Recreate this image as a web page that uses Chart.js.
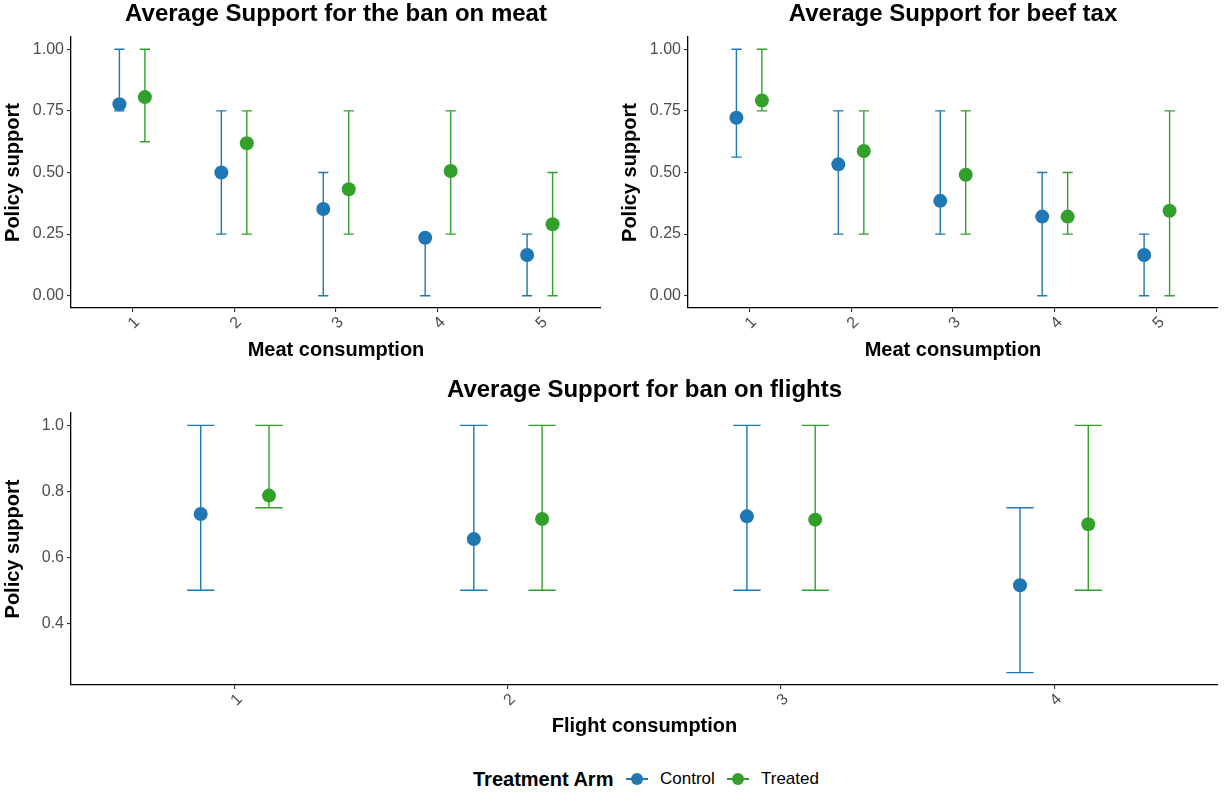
<!DOCTYPE html>
<html>
<head>
<meta charset="utf-8">
<script src="https://cdn.jsdelivr.net/npm/chart.js@4.4.1/dist/chart.umd.min.js"></script>
<style>
  html, body { margin: 0; padding: 0; background: #ffffff; }
  body { width: 1225px; height: 797px; position: relative; overflow: hidden;
         font-family: "Liberation Sans", Arial, Helvetica, sans-serif; }
  .panel { position: absolute; }
  .panel canvas { display: block; }
  #legend span { position: absolute; white-space: nowrap; line-height: 1; }
  #legend .lg-title { font-weight: bold; font-size: 20px; color: #000; }
  #legend .lbl { font-size: 17px; color: #000; }
  #legend .key { width: 22px; height: 14px; }
  #legend .key i { position: absolute; display: block; }
  #legend .key .ln { left: 0; top: 6px; width: 22px; height: 1.5px; }
  #legend .key .dot { left: 5px; top: 1px; width: 12px; height: 12px; border-radius: 50%; }
</style>
</head>
<body>
<div class="panel" style="left:0;top:0;"><canvas id="meatBan" width="612" height="365"></canvas></div>
<div class="panel" style="left:612px;top:0;"><canvas id="beefTax" width="613" height="365"></canvas></div>
<div class="panel" style="left:0;top:370px;"><canvas id="flightBan" width="1225" height="375"></canvas></div>
<div id="legend"></div>

<script>
// ---- data -----------------------------------------------------------------
const armNames  = ['Control', 'Treated'];
const armColors = ['#1f78b4', '#33a02c'];

const meatCats = [1, 2, 3, 4, 5];
const flightCats = [1, 2, 3, 4];

const supportTicks = [0, 0.25, 0.5, 0.75, 1];
const flightSupportTicks = [0.4, 0.6, 0.8, 1.0];

// Average support for the ban on meat
const banMeatCtrl   = [0.777, 0.500, 0.352, 0.235, 0.165];
const banMeatCtrlLo = [0.75, 0.25, 0.00, 0.00, 0.00];
const banMeatCtrlHi = [1.00, 0.75, 0.50, 0.25, 0.25];
const banMeatTrt    = [0.806, 0.619, 0.432, 0.506, 0.290];
const banMeatTrtLo  = [0.625, 0.25, 0.25, 0.25, 0.00];
const banMeatTrtHi  = [1.00, 0.75, 0.75, 0.75, 0.50];

// Average support for beef tax
const beefTaxCtrl   = [0.722, 0.533, 0.385, 0.321, 0.165];
const beefTaxCtrlLo = [0.5625, 0.25, 0.25, 0.00, 0.00];
const beefTaxCtrlHi = [1.00, 0.75, 0.75, 0.50, 0.25];
const beefTaxTrt    = [0.792, 0.587, 0.491, 0.321, 0.345];
const beefTaxTrtLo  = [0.75, 0.25, 0.25, 0.25, 0.00];
const beefTaxTrtHi  = [1.00, 0.75, 0.75, 0.50, 0.75];

// Average support for ban on flights
const flightCtrl   = [0.731, 0.655, 0.724, 0.515];
const flightCtrlLo = [0.50, 0.50, 0.50, 0.25];
const flightCtrlHi = [1.00, 1.00, 1.00, 0.75];
const flightTrt    = [0.787, 0.716, 0.714, 0.700];
const flightTrtLo  = [0.75, 0.50, 0.50, 0.50];
const flightTrtHi  = [1.00, 1.00, 1.00, 1.00];

// ---- drawing --------------------------------------------------------------
const FONT = '"Liberation Sans", Arial, Helvetica, sans-serif';
Chart.defaults.font.family = FONT;

const DODGE = 0.125;     // horizontal offset of each arm from its category
const CAP_HALF = 0.05;   // half width of the error bar caps, in x units

// Vertical error bars with caps, drawn underneath the points
const errorBars = {
  id: 'errorBars',
  beforeDatasetsDraw(chart) {
    const { ctx, scales: { x, y } } = chart;
    chart.data.datasets.forEach((ds) => {
      ctx.save();
      ctx.strokeStyle = ds.backgroundColor;
      ctx.lineWidth = 1.4;
      ds.data.forEach((pt, j) => {
        const px = x.getPixelForValue(pt.x);
        const half = Math.abs(x.getPixelForValue(pt.x + CAP_HALF) - px);
        const yLo = y.getPixelForValue(ds.errLow[j]);
        const yHi = y.getPixelForValue(ds.errHigh[j]);
        ctx.beginPath();
        ctx.moveTo(px, yLo); ctx.lineTo(px, yHi);
        ctx.moveTo(px - half, yLo); ctx.lineTo(px + half, yLo);
        ctx.moveTo(px - half, yHi); ctx.lineTo(px + half, yHi);
        ctx.stroke();
      });
      ctx.restore();
    });
  }
};

function armDataset(i, cats, mean, lo, hi) {
  const shift = i === 0 ? -DODGE : DODGE;
  return {
    label: armNames[i],
    data: cats.map((c, j) => ({ x: c + shift, y: mean[j] })),
    errLow: lo,
    errHigh: hi,
    backgroundColor: armColors[i],
    borderColor: armColors[i],
    borderWidth: 0,
    pointRadius: 7,
    pointHoverRadius: 7,
    showLine: false
  };
}

function makePanel(id, o) {
  const axisGrid = { drawOnChartArea: false, drawTicks: true, tickLength: 4, color: '#333333', lineWidth: 1.1 };
  const axisBorder = { display: true, color: '#000000', width: 1.3 };
  return new Chart(document.getElementById(id), {
    type: 'scatter',
    data: {
      datasets: [
        armDataset(0, o.cats, o.ctrl, o.ctrlLo, o.ctrlHi),
        armDataset(1, o.cats, o.trt, o.trtLo, o.trtHi)
      ]
    },
    options: {
      responsive: false,
      animation: false,
      events: [],
      layout: { padding: { left: 0, right: o.padRight, top: 0, bottom: 0 } },
      plugins: {
        legend: { display: false },
        tooltip: { enabled: false },
        title: {
          display: true,
          text: o.title,
          fullSize: false,
          color: '#000000',
          font: { size: 24, weight: 'bold', lineHeight: 1 },
          padding: { top: o.titlePadTop, bottom: o.titlePadBottom }
        }
      },
      scales: {
        x: {
          type: 'linear',
          min: 0.4,
          max: o.cats.length + 0.6,
          afterBuildTicks: (axis) => { axis.ticks = o.cats.map(v => ({ value: v })); },
          afterFit: (axis) => { axis.height = o.xAxisHeight; },
          grid: axisGrid,
          border: axisBorder,
          ticks: {
            minRotation: 45, maxRotation: 45,
            color: '#4d4d4d',
            font: { size: 16 },
            padding: 1,
            labelOffset: 5,
            callback: (v) => String(v)
          },
          title: {
            display: true,
            text: o.xTitle,
            color: '#000000',
            font: { size: 20, weight: 'bold', lineHeight: 1.2 },
            padding: { top: 0, bottom: o.xTitlePad }
          }
        },
        y: {
          type: 'linear',
          min: o.yMin,
          max: o.yMax,
          afterBuildTicks: (axis) => { axis.ticks = o.yTicks.map(v => ({ value: v })); },
          afterFit: (axis) => { axis.width = o.yAxisWidth; },
          grid: axisGrid,
          border: axisBorder,
          ticks: {
            color: '#4d4d4d',
            font: { size: 16 },
            padding: 3,
            callback: (v) => Number(v).toFixed(o.decimals)
          },
          title: {
            display: true,
            text: 'Policy support',
            color: '#000000',
            font: { size: 20, weight: 'bold', lineHeight: 1.2 },
            padding: { top: o.yTitlePad, bottom: 0 }
          }
        }
      }
    },
    plugins: [errorBars]
  });
}

makePanel('meatBan', {
  title: 'Average Support for the ban on meat',
  xTitle: 'Meat consumption',
  cats: meatCats,
  ctrl: banMeatCtrl, ctrlLo: banMeatCtrlLo, ctrlHi: banMeatCtrlHi,
  trt: banMeatTrt, trtLo: banMeatTrtLo, trtHi: banMeatTrtHi,
  yMin: -0.05, yMax: 1.05, yTicks: supportTicks, decimals: 2,
  padRight: 11, yAxisWidth: 71, xAxisHeight: 57,
  titlePadTop: 2.5, titlePadBottom: 10.5, xTitlePad: 2.5, yTitlePad: 1.5
});

makePanel('beefTax', {
  title: 'Average Support for beef tax',
  xTitle: 'Meat consumption',
  cats: meatCats,
  ctrl: beefTaxCtrl, ctrlLo: beefTaxCtrlLo, ctrlHi: beefTaxCtrlHi,
  trt: beefTaxTrt, trtLo: beefTaxTrtLo, trtHi: beefTaxTrtHi,
  yMin: -0.05, yMax: 1.05, yTicks: supportTicks, decimals: 2,
  padRight: 7, yAxisWidth: 76, xAxisHeight: 57,
  titlePadTop: 2.5, titlePadBottom: 10.5, xTitlePad: 2.5, yTitlePad: 6
});

makePanel('flightBan', {
  title: 'Average Support for ban on flights',
  xTitle: 'Flight consumption',
  cats: flightCats,
  ctrl: flightCtrl, ctrlLo: flightCtrlLo, ctrlHi: flightCtrlHi,
  trt: flightTrt, trtLo: flightTrtLo, trtHi: flightTrtHi,
  yMin: 0.2125, yMax: 1.0375, yTicks: flightSupportTicks, decimals: 1,
  padRight: 7, yAxisWidth: 71, xAxisHeight: 60,
  titlePadTop: 8.2, titlePadBottom: 10.8, xTitlePad: 6.5, yTitlePad: 1.5
});

// ---- legend ---------------------------------------------------------------
(function buildLegend() {
  const legend = document.getElementById('legend');
  const add = (cls, left, top, text) => {
    const s = document.createElement('span');
    s.className = cls;
    s.style.left = left + 'px';
    s.style.top = top + 'px';
    if (text) s.textContent = text;
    legend.appendChild(s);
    return s;
  };
  add('lg-title', 473, 769, 'Treatment Arm');
  const keyLeft = [626, 727];
  const lblLeft = [660, 761];
  armNames.forEach((name, i) => {
    const k = add('key', keyLeft[i], 772);
    const ln = document.createElement('i'); ln.className = 'ln'; ln.style.background = armColors[i];
    const dot = document.createElement('i'); dot.className = 'dot'; dot.style.background = armColors[i];
    k.appendChild(ln); k.appendChild(dot);
    add('lbl', lblLeft[i], 770, name);
  });
})();
</script>
</body>
</html>
